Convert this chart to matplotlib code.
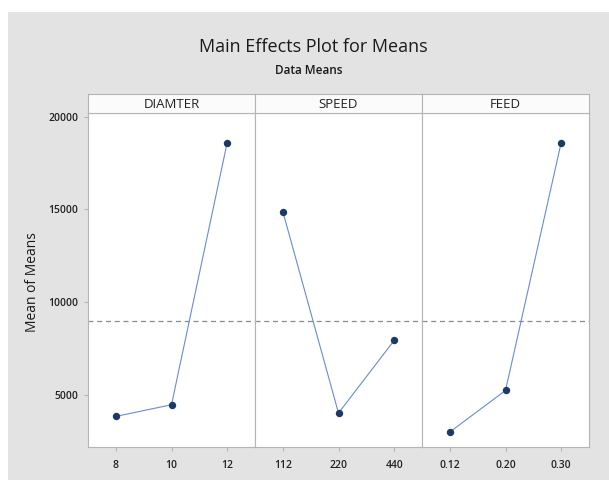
import numpy as np
import matplotlib
matplotlib.use("Agg")
import matplotlib.pyplot as plt
from matplotlib.patches import Rectangle

plt.rcParams['font.family'] = ['Open Sans', 'DejaVu Sans']

factors = ['DIAMTER', 'SPEED', 'FEED']
levels = [['8', '10', '12'], ['112', '220', '440'], ['0.12', '0.20', '0.30']]
diamter_means = [3830, 4460, 18600]
speed_means = [14880, 4010, 7930]
feed_means = [2990, 5230, 18600]
all_means = [diamter_means, speed_means, feed_means]

grand_mean = np.mean(diamter_means)

W, H = 609, 486
fig = plt.figure(figsize=(W / 100, H / 100), dpi=100)
fig.patch.set_facecolor('white')

# grey backdrop of the graph window
fig.patches.append(Rectangle((8 / W, 6 / H), 1 - 8 / W, 1 - 18 / H,
                             transform=fig.transFigure, facecolor='#e3e3e3',
                             edgecolor='none', zorder=-10))

fig.text(313 / W, 1 - 47 / H, 'Main Effects Plot for Means', ha='center',
         va='center', fontsize=13, color='#1a1a1a')
fig.text(309 / W, 1 - 70 / H, 'Data Means', ha='center', va='center',
         fontsize=8.5, color='#1a1a1a', fontweight='semibold')
fig.text(32 / W, 1 - 282 / H, 'Mean of Means', rotation=90, ha='center',
         va='center', fontsize=10, color='#1a1a1a')

left, right = 88, 589
top, bottom, head_top = 113, 447, 94
pw = (right - left) / 3
edge = '#b4b4b4'

for i, (name, labs, vals) in enumerate(zip(factors, levels, all_means)):
    x0 = left + i * pw
    ax = fig.add_axes([x0 / W, 1 - bottom / H, pw / W, (bottom - top) / H])
    ax.set_facecolor('white')
    x = np.arange(1, len(vals) + 1)
    ax.plot(x, vals, color='#6a8bd0', lw=0.8, zorder=2)
    ax.plot(x, vals, 'o', color='#1c3a66', ms=4.3, zorder=3)
    ax.axhline(grand_mean, color='#8a8a8a', lw=0.9, ls=(0, (4, 3)), zorder=1)
    ax.set_xlim(0.5, 3.5)
    ax.set_ylim(2180, 20200)
    ax.set_xticks(x)
    ax.set_xticklabels(labs, fontweight='semibold')
    ax.tick_params(axis='x', length=3, color=edge, labelsize=7.5,
                   labelcolor='#222222', pad=6)
    if i == 0:
        ax.set_yticks([5000, 10000, 15000, 20000])
        ax.set_yticklabels(['5000', '10000', '15000', '20000'],
                           fontweight='semibold')
        ax.tick_params(axis='y', length=3, color=edge, labelsize=7.5,
                       labelcolor='#222222', pad=4)
    else:
        ax.set_yticks([])
    for sp in ax.spines.values():
        sp.set_color(edge)
        sp.set_linewidth(0.8)

    # factor header strip
    hx = fig.add_axes([x0 / W, 1 - top / H, pw / W, (top - head_top) / H])
    hx.set_facecolor('#fbfbfb')
    hx.set_xticks([])
    hx.set_yticks([])
    for sp in hx.spines.values():
        sp.set_color(edge)
        sp.set_linewidth(0.8)
    hx.text(0.5, 0.45, name, ha='center', va='center', fontsize=9.5,
            color='#222222', transform=hx.transAxes)

fig.savefig('out.png', dpi=100)
